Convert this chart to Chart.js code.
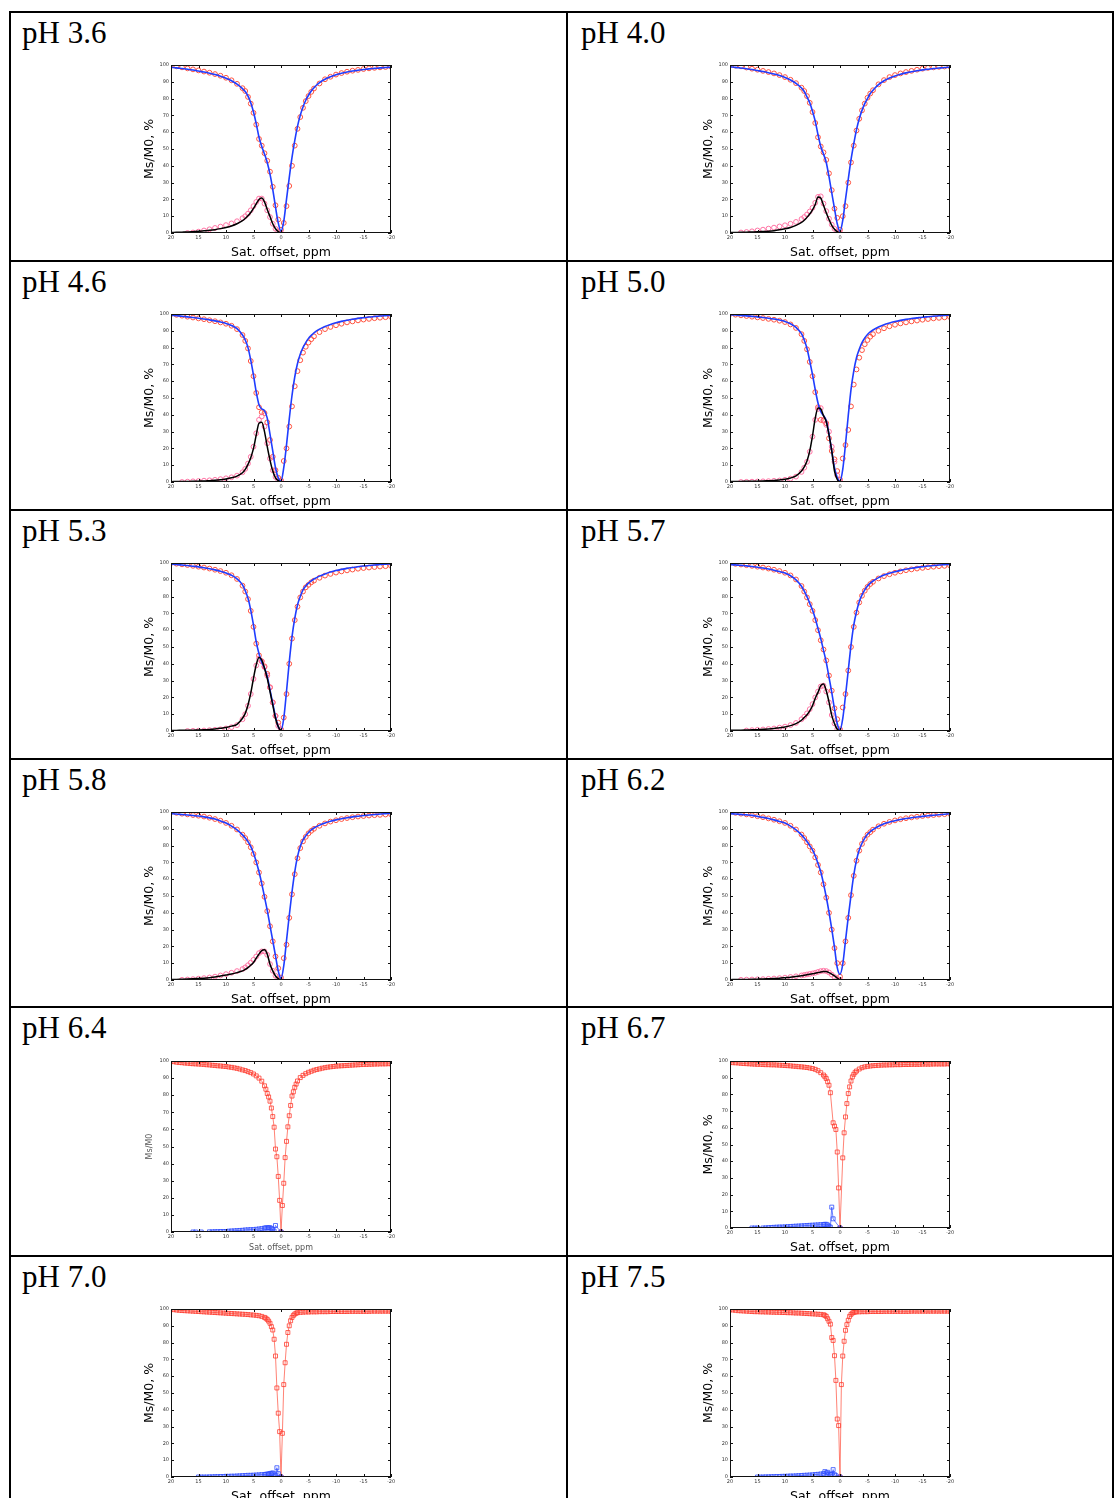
<!DOCTYPE html>
<html>
<head>
<meta charset="utf-8">
<script src="https://cdn.jsdelivr.net/npm/chart.js@4.4.0/dist/chart.umd.min.js"></script>
<style>
  html, body { margin: 0; padding: 0; background: #fff; }
  #page { position: relative; width: 1114px; height: 1498px; overflow: hidden; background: #fff; }
  .hline { position: absolute; left: 9px; right: 0; height: 2px; background: #000; }
  .vline { position: absolute; top: 11px; bottom: 0; width: 2px; background: #000; }
  .ph { position: absolute; font-family: 'Liberation Serif', 'Times New Roman', serif; font-size: 31px; line-height: 31px; color: #000; white-space: nowrap; }
  canvas { position: absolute; }
</style>
</head>
<body>
<div id="page"></div>
<script>
// saturation offsets, ppm (Z-spectra and fits, pH 3.6 - 6.2)
const offsets = [20, 19, 18, 17, 16, 15, 14, 13, 12, 11, 10, 9, 8, 7,
  6.5, 6, 5.5, 5, 4.5, 4, 3.5, 3, 2.5, 2, 1.5, 1, 0.5, 0, -0.5, -1, -1.5, -2, -2.5, -3, -3.5, -4, -4.5, -5, -5.5, -6,
  -7, -8, -9, -10, -11, -12, -13, -14, -15, -16, -17, -18, -19, -20];
// offsets of the asymmetry curves (positive side only)
const asymOffsets = [20, 19, 18, 17, 16, 15, 14, 13, 12, 11, 10, 9, 8, 7,
  6.5, 6, 5.5, 5, 4.5, 4, 3.5, 3, 2.5, 2, 1.5, 1, 0.5, 0];

// pH 3.6
const z36 = [100, 99.2, 98.6, 98.0, 97.4, 96.8, 96.1, 95.4, 94.6, 93.6, 92.4, 90.9, 88.8, 86.2,
  84.5, 81, 77, 71.5, 64.5, 56, 52, 47.5, 43, 36.5, 27.5, 16.5, 8, 2, 6, 16, 28, 40, 52, 62, 69, 74.5, 78.5, 81.5, 84, 86,
  89, 91.5, 93, 94.3, 95.2, 96, 96.6, 97.1, 97.6, 98, 98.3, 98.6, 98.8, 99];
const fit36 = [98.6, 98.3, 97.9, 97.5, 97.0, 96.4, 95.8, 95.1, 94.3, 93.3, 92.1, 90.6, 88.6, 85.9,
  84.2, 81.5, 77.5, 72, 65, 57, 51.5, 47, 42, 35, 26, 15.5, 6, 1, 7, 20, 33, 45, 55, 63.5, 70, 75, 79, 82, 84.5, 86.5,
  89.5, 91.5, 93, 94.2, 95.1, 95.8, 96.4, 96.9, 97.3, 97.7, 98, 98.3, 98.5, 98.7];
const asym36 = [null, null, null, 0, 0.3, 0.8, 1.5, 2.2, 3.0, 3.8, 4.7, 5.7, 7.0, 8.8,
  10.0, 11.5, 13.5, 16, 18.5, 20.5, 20.5, 17.5, 13.5, 9.5, 5.5, 2.5, 1, 0];
const asymFit36 = [0.3, 0.4, 0.5, 0.6, 0.8, 1.0, 1.3, 1.6, 2.0, 2.6, 3.3, 4.2, 5.5, 7.3,
  8.6, 10.2, 12.2, 14.6, 17.4, 20.0, 20.8, 18.5, 14.0, 9.8, 5.5, 2.5, 0.8, 0];

// pH 4.0
const z40 = [100, 99.6, 99.2, 98.5, 97.8, 97.2, 96.5, 95.8, 95, 94, 92.8, 91.2, 89.2, 86.5,
  84.5, 81.5, 77.5, 72, 65.5, 57, 51.5, 48, 43.5, 35.5, 25.5, 14.5, 9, 2, 10, 16, 30, 42, 52, 61, 68, 73, 77, 80.5, 83, 85,
  88.5, 91, 92.8, 94, 95, 95.8, 96.5, 97.2, 97.8, 98.3, 98.6, 98.9, 99.1, 99.2];
const fit40 = [98.9, 98.6, 98.2, 97.8, 97.3, 96.7, 96.1, 95.4, 94.6, 93.7, 92.6, 91.1, 89.1, 86.3,
  84.2, 81, 77.5, 72.5, 66.5, 58.5, 51.5, 47, 42, 33.5, 24, 14.5, 5.5, 1, 7.5, 20, 32, 43.5, 53, 61.5, 68, 73, 77, 80, 83, 85,
  88.3, 90.6, 92.2, 93.5, 94.5, 95.3, 96, 96.6, 97.1, 97.5, 97.9, 98.2, 98.5, 98.7];
const asym40 = [null, null, 0.3, 0.6, 1.0, 1.5, 2.0, 2.6, 3.2, 3.9, 4.6, 5.5, 6.6, 8.3,
  9.5, 11, 12.8, 15, 18, 21.5, 21.8, 17.5, 13, 8.5, 5, 2.5, 1, 0.2];
const asymFit40 = [0.3, 0.35, 0.4, 0.5, 0.6, 0.7, 0.9, 1.1, 1.4, 1.9, 2.5, 3.3, 4.5, 6.3,
  7.6, 9.3, 11.3, 13.8, 17, 21.5, 20.8, 16.5, 12, 8, 4.6, 2.3, 0.8, 0];

// pH 4.6
const z46 = [100, 99.5, 99, 98.4, 97.9, 97.4, 96.9, 96.3, 95.7, 95, 94.2, 93, 91, 87.5,
  84, 79.5, 72, 63, 53, 44.5, 41.5, 41, 35.5, 25, 15, 7, 2.5, 1, 12.5, 20, 33, 45, 57, 66, 72.5, 77, 80.5, 83, 85, 86.7,
  89.2, 91, 92.3, 93.3, 94.2, 95, 95.6, 96.2, 96.7, 97.1, 97.5, 97.8, 98.1, 98.3];
const fit46 = [99.3, 99, 98.7, 98.3, 97.9, 97.5, 97, 96.5, 95.9, 95.2, 94.4, 93.2, 91.3, 87.5,
  84.5, 80, 72.5, 63.5, 53.5, 46, 43.5, 42.5, 38, 28.5, 18.5, 8.5, 2.5, 0.5, 8.5, 22, 37.5, 51.5, 62.5, 70.5, 76, 80, 83, 85.5, 87.3, 88.8,
  91, 92.6, 93.8, 94.8, 95.6, 96.3, 96.9, 97.4, 97.8, 98.2, 98.5, 98.8, 99, 99.2];
const asym46 = [null, null, 0, 0.2, 0.4, 0.6, 0.8, 1.0, 1.3, 1.7, 2.2, 2.8, 3.8, 5.8,
  7.8, 11, 15, 21, 29, 37, 39, 33, 23, 14, 7, 3, 1, 0.2];
const asymFit46 = [0.2, 0.25, 0.3, 0.35, 0.4, 0.5, 0.6, 0.8, 1.0, 1.3, 1.8, 2.5, 3.5, 5.5,
  7.5, 10.5, 14.5, 20, 28, 35, 35.5, 30, 21, 13, 6.5, 2.5, 0.8, 0];

// pH 5.0
const z50 = [100, 99.6, 99.2, 98.8, 98.4, 98, 97.6, 97.1, 96.6, 96, 95.2, 93.8, 91.7, 88,
  84, 79, 71.5, 63, 53.5, 44.5, 37, 36.5, 35, 26, 18.5, 13.5, 6.5, 1.5, 14, 22, 31, 45, 58, 67, 74, 78.5, 82, 84.5, 86.5, 88,
  90, 91.5, 92.7, 93.6, 94.4, 95, 95.6, 96.1, 96.6, 97, 97.4, 97.7, 98, 98.2];
const fit50 = [99.6, 99.4, 99.2, 98.9, 98.6, 98.3, 97.9, 97.5, 97, 96.4, 95.6, 94.2, 92, 88.3,
  84.5, 79.5, 72, 64, 55, 47, 42, 39.5, 36.5, 28.5, 18.5, 8.5, 2.6, 0.5, 7.5, 22.5, 39.5, 55, 66, 74, 79, 83, 85.7, 87.8, 89.3, 90.5,
  92.3, 93.6, 94.6, 95.5, 96.2, 96.8, 97.3, 97.7, 98.1, 98.4, 98.7, 99, 99.2, 99.4];
const asym50 = [null, null, 0, 0.1, 0.2, 0.3, 0.4, 0.5, 0.7, 0.9, 1.3, 2, 3.2, 6,
  8.5, 12, 18, 27, 37, 43.5, 44, 37, 34, 30, 21, 12, 4, 0.5];
const asymFit50 = [0.3, 0.3, 0.35, 0.4, 0.45, 0.5, 0.6, 0.75, 0.9, 1.2, 1.6, 2.4, 3.6, 6.5,
  9, 12.5, 18.5, 27.5, 38, 44, 43.5, 39.5, 36, 28, 18.5, 6.5, 1.5, 0];

// pH 5.3
const z53 = [100, 99.6, 99.2, 98.8, 98.3, 97.8, 97.3, 96.7, 96, 95.2, 94.2, 92.7, 90.5, 86.5,
  83, 78.5, 71.5, 62, 52, 45, 41.5, 38.5, 34, 26, 17, 9, 5, 1, 8, 22, 40, 55, 66, 74, 79.5, 83, 85.5, 87, 88.5, 89.5,
  91.2, 92.5, 93.5, 94.3, 95, 95.6, 96.1, 96.6, 97, 97.3, 97.6, 97.9, 98.1, 98.3];
const fit53 = [99.3, 99.1, 98.8, 98.5, 98.1, 97.7, 97.2, 96.6, 95.9, 95.1, 94.1, 92.7, 90.6, 87,
  83.5, 79, 72, 63, 53, 46, 41, 37.4, 32.4, 24.5, 16.5, 8.5, 2.6, 0.5, 7.5, 23.5, 41, 56, 67, 75, 80, 84, 86.3, 88, 89.4, 90.5,
  92.2, 93.5, 94.6, 95.5, 96.2, 96.8, 97.3, 97.8, 98.2, 98.5, 98.8, 99.1, 99.3, 99.5];
const asym53 = [null, null, null, 0, 0.1, 0.2, 0.3, 0.5, 0.7, 1, 1.5, 2.3, 3.5, 7,
  10, 15, 22, 31, 39, 43, 41.5, 38, 33, 26, 17, 9, 3, 0.5];
const asymFit53 = [0.3, 0.35, 0.4, 0.45, 0.5, 0.6, 0.7, 0.9, 1.2, 1.6, 2.1, 2.9, 4, 7.6,
  10.5, 15.5, 22.5, 31.4, 39.4, 43.7, 42.3, 37.4, 31.4, 23.5, 15.5, 7.6, 2.6, 0];

// pH 5.7
const z57 = [100, 99.5, 99.1, 98.7, 98.3, 97.8, 97.3, 96.7, 96, 95.2, 94.2, 92.6, 90.2, 86.3,
  83, 79.5, 75.5, 71.5, 66, 60, 54, 48.5, 42, 33, 24, 13.5, 7, 1, 14, 22, 36, 50, 62, 70.5, 76.5, 80.5, 83.5, 85.8, 87.5, 88.8,
  90.8, 92.2, 93.3, 94.2, 95, 95.7, 96.2, 96.7, 97.1, 97.5, 97.8, 98.1, 98.3, 98.5];
const fit57 = [99.1, 98.9, 98.6, 98.3, 97.9, 97.5, 97, 96.4, 95.7, 94.9, 94, 92.4, 90, 86.2,
  83.3, 80, 76, 72, 67, 61, 55, 48, 41, 32, 23, 13, 4.4, 0.5, 7.4, 21, 36, 51, 63, 71, 77, 81, 84, 86.3, 88, 89.3,
  91.3, 92.8, 93.9, 94.8, 95.6, 96.3, 96.9, 97.4, 97.8, 98.2, 98.5, 98.8, 99, 99.2];
const asym57 = [null, null, null, 0.3, 0.5, 0.7, 0.9, 1.2, 1.5, 2, 2.6, 3.5, 4.8, 7,
  8.5, 10.5, 13, 16, 20, 23.5, 26.5, 27, 23.5, 17, 9.5, 4.5, 1.2, 0.2];
const asymFit57 = [0.4, 0.45, 0.5, 0.6, 0.7, 0.8, 1.0, 1.2, 1.5, 2.0, 2.4, 3.2, 4.4, 6.4,
  8, 9.7, 12, 15, 19.5, 23, 27, 28, 24, 17.3, 9.3, 4.4, 1, 0];

// pH 5.8
const z58 = [100, 99.5, 99, 98.6, 98.2, 97.8, 97.3, 96.6, 95.8, 94.8, 93.5, 91.8, 89.6, 86.5,
  84.5, 82, 79, 75, 70, 64, 57.5, 49.5, 41, 32, 23, 14, 7, 1.5, 13, 21, 37, 51, 63, 72.5, 78.5, 82.5, 85.2, 87.3, 88.8, 90,
  91.8, 93.2, 94.3, 95.1, 95.8, 96.4, 96.9, 97.3, 97.6, 97.9, 98.1, 98.3, 98.5, 98.6];
const fit58 = [99, 98.8, 98.5, 98.2, 97.9, 97.6, 97.1, 96.5, 95.8, 94.7, 93.4, 91.6, 89.4, 86.4,
  84.5, 82.4, 79.5, 75.4, 70.4, 64.4, 57.4, 49.4, 41.4, 32.4, 23.4, 14.4, 5.4, 0.8, 8.4, 23.4, 38.4, 52.4, 64.4, 73.4, 79.4, 83.4, 85.8, 87.8, 89.3, 90.5,
  92.2, 93.5, 94.5, 95.3, 96, 96.6, 97.1, 97.5, 97.9, 98.2, 98.5, 98.8, 99, 99.2];
const asym58 = [null, null, 0.1, 0.3, 0.5, 0.8, 1.1, 1.5, 2, 2.7, 3.5, 4.3, 5.3, 6.5,
  7.5, 8.8, 10.3, 12, 14, 16, 17, 17, 15, 9.5, 5.5, 2.5, 1, 0.2];
const asymFit58 = [0.3, 0.35, 0.45, 0.55, 0.7, 0.9, 1.1, 1.4, 1.8, 2.4, 3, 3.6, 4.4, 5.4,
  6.3, 7.4, 8.8, 10.4, 13, 15.4, 17.5, 18, 15.4, 9.4, 5.4, 2.4, 0.8, 0];

// pH 6.2
const z62 = [100, 99.5, 99, 98.6, 98.1, 97.5, 96.9, 96.2, 95.4, 94.5, 93.5, 91.8, 89.6, 86.6,
  84.5, 82, 79.5, 77, 73, 68.5, 64, 57, 49, 40, 30, 19, 10, 2, 10, 23, 37, 50.5, 62, 71, 77, 81, 84, 86.5, 88, 89.5,
  91.5, 93, 94.1, 95, 95.7, 96.3, 96.8, 97.2, 97.6, 97.9, 98.2, 98.5, 98.7, 98.9];
const fit62 = [99, 98.8, 98.6, 98.3, 98, 97.4, 96.8, 96.1, 95.3, 94.4, 93.4, 91.6, 89.4, 86.4,
  84.5, 82.4, 80, 77.4, 73.8, 69.4, 64.4, 57.4, 49.4, 40.4, 30.4, 19.4, 7.4, 3.4, 9.4, 23.4, 37.4, 50.4, 62.4, 71.4, 77.4, 81.4, 84.4, 86.8, 88.3, 89.5,
  91.5, 93, 94, 94.8, 95.5, 96.1, 96.6, 97, 97.4, 97.8, 98.1, 98.4, 98.7, 99];
const asym62 = [null, null, 0.1, 0.2, 0.3, 0.4, 0.5, 0.7, 0.9, 1.1, 1.4, 1.8, 2.2, 2.7,
  3, 3.3, 3.6, 3.9, 4.3, 4.8, 5.3, 5.5, 5.3, 4.5, 3.2, 1.8, 0.8, 0.2];
const asymFit62 = [0.2, 0.25, 0.3, 0.35, 0.4, 0.5, 0.6, 0.75, 0.9, 1.1, 1.4, 1.7, 2.1, 2.5,
  2.8, 3.1, 3.4, 3.7, 4.0, 4.4, 4.8, 5.0, 5.0, 4.4, 3.5, 2.4, 1.2, 0];

// raw spectra, pH 6.4 - 7.5
const lowOffsets = [20, 19.5, 19, 18.5, 18, 17.5, 17, 16.5, 16, 15.5, 15, 14.5, 14, 13.5, 13, 12.5, 12, 11.5,
  11, 10.5, 10, 9.5, 9, 8.5, 8, 7.5, 7, 6.5, 6, 5.5, 5, 4.5, 4, 3.5, 3,
  2.75, 2.5, 2.25, 2, 1.75, 1.5, 1.25, 1, 0.75, 0.5, 0.25, 0, -0.25, -0.5, -0.75, -1, -1.25, -1.5, -1.75, -2, -2.25, -2.5, -2.75,
  -3, -3.5, -4, -4.5, -5, -5.5, -6, -6.5, -7, -7.5, -8, -8.5, -9, -9.5, -10, -10.5, -11, -11.5,
  -12, -12.5, -13, -13.5, -14, -14.5, -15, -15.5, -16, -16.5, -17, -17.5, -18, -18.5, -19, -19.5, -20];
const lowAsymOffsets = [16, 15.5, 15, 14.5, 14, 13.5, 13, 12.5, 12, 11.5, 11, 10.5, 10, 9.5,
  9, 8.5, 8, 7.5, 7, 6.5, 6, 5.5, 5, 4.5, 4, 3.5, 3,
  2.75, 2.5, 2.25, 2, 1.75, 1.5, 1.25, 1, 0.75, 0.5, 0.25, 0];

const z64 = [99.8, 99.6, 99.3, 99.1, 99, 98.8, 98.7, 98.5, 98.4, 98.3, 98.2, 98.1, 98, 97.8, 97.7, 97.5, 97.4, 97.2,
  97.1, 96.9, 96.8, 96.5, 96.3, 96, 95.7, 95.3, 94.8, 94.4, 93.8, 93.2, 92.4, 91.3, 90, 88.2, 85.5,
  83.5, 81, 79, 76.5, 72.5, 67.5, 61.3, 48.5, 44, 32.5, 18.5, 0, 15.5, 28.5, 43.5, 53, 61.5, 68, 74, 79.5, 82, 84.6, 86.5,
  88.3, 90.3, 91.6, 92.6, 93.4, 94, 94.6, 95, 95.4, 95.8, 96.1, 96.4, 96.6, 96.8, 97, 97.1, 97.2, 97.3,
  97.4, 97.5, 97.6, 97.7, 97.8, 97.9, 98, 98, 98.1, 98.1, 98.2, 98.2, 98.3, 98.3, 98.3, 98.4, 98.4];
const mtr64 = [0, 0, null, 0, null, null, 0.1, 0.1, 0.2, 0.2, 0.3, 0.3, 0.3, 0.5,
  0.6, 0.7, 0.8, 0.9, 1.0, 1.2, 1.3, 1.4, 1.4, 1.6, 1.8, 2.0, 2.3,
  2.4, 2.4, 2.5, 2.5, 2.1, 1.4, 0.5, 3.8, null, null, null, 0];

const z67 = [99.2, 99, 98.9, 98.8, 98.6, 98.5, 98.4, 98.3, 98.2, 98.1, 98, 98, 97.9, 97.8, 97.8, 97.7, 97.7, 97.6,
  97.5, 97.4, 97.3, 97.2, 97.1, 96.9, 96.8, 96.6, 96.5, 96.3, 96.1, 95.8, 95.5, 95, 94.2, 93, 91.6,
  90.6, 89.5, 87.6, 85.5, 81, null, 63, 61, 59, 45.5, 24, 0, null, 42, 57, 66.5, 74.5, 80.5, 84.5, 88, 90.5, 92, 93.2,
  94, 95.2, 96, 96.5, 96.8, 97, 97.2, 97.3, 97.4, 97.5, 97.6, 97.6, 97.7, 97.7, 97.8, 97.8, 97.8, 97.9,
  97.9, 97.9, 98, 98, 98, 98, 98.1, 98.1, 98.1, 98.1, 98.2, 98.2, 98.2, 98.2, 98.2, 98.3, 98.3];
const mtr67 = [0, 0, 0, null, 0, 0.1, 0.2, 0.3, 0.4, 0.5, 0.6, 0.6, 0.7, 0.8,
  0.9, 1.0, 1.1, 1.2, 1.3, 1.4, 1.5, 1.6, 1.7, 1.8, 1.9, 2.0, 2.1,
  2.2, 2.2, 1.8, 1.0, 0.5, 12.5, 5.5, null, null, null, null, 0];

const z70 = [99.8, 99.6, 99.4, 99.2, 99.1, 99, 98.9, 98.8, 98.7, 98.6, 98.5, 98.4, 98.3, 98.2, 98.1, 98, 97.9, 97.8,
  97.7, 97.6, 97.5, 97.4, 97.3, 97.2, 97.1, 97, 96.9, 96.8, 96.7, 96.5, 96.4, 96.2, 96, 95.6, 95,
  94.5, 93.8, 92.8, 91.5, 89.5, 87.5, 82, 72, 53, 38, 27, 0, 26, 55, 68, 79, 86, 90, 93, 95, 96.2, 97, 97.5,
  97.8, 98, 98.1, 98.2, 98.2, 98.3, 98.3, 98.3, 98.4, 98.4, 98.4, 98.4, 98.5, 98.5, 98.5, 98.5, 98.5, 98.5,
  98.5, 98.6, 98.6, 98.6, 98.6, 98.6, 98.6, 98.6, 98.6, 98.7, 98.7, 98.7, 98.7, 98.7, 98.7, 98.7, 98.7];
const mtr70 = [null, null, 0, 0, 0, 0, 0.1, 0.1, 0.2, 0.2, 0.3, 0.3, 0.4, 0.4,
  0.5, 0.5, 0.6, 0.7, 0.8, 0.9, 1.0, 1.0, 1.1, 1.2, 1.3, 1.4, 1.5,
  1.6, 1.7, 1.8, 2.0, 2.2, 2.4, 1.8, 1.0, 5.5, 2.0, null, 0];

const z75 = [99.6, 99.4, 99.2, 99, 98.9, 98.8, 98.7, 98.6, 98.5, 98.4, 98.4, 98.3, 98.3, 98.2, 98.2, 98.1, 98.1, 98,
  98, 97.9, 97.9, 97.8, 97.8, 97.7, 97.6, 97.6, 97.5, 97.4, 97.3, 97.2, 97.1, 97, 96.9, 96.8, 96.6,
  96.2, 95.6, 94.2, 92.7, 91, 83, 81.3, 72.2, 57.5, 34.5, 30.6, 0, 55, 72, 80.8, 87.3, 90.7, 93.3, 95.6, 96.8, 97.6, 98, 98.2,
  98.3, 98.3, 98.4, 98.4, 98.4, 98.5, 98.5, 98.5, 98.5, 98.5, 98.6, 98.6, 98.6, 98.6, 98.6, 98.6, 98.6, 98.6,
  98.6, 98.6, 98.7, 98.7, 98.7, 98.7, 98.7, 98.7, 98.7, 98.7, 98.7, 98.7, 98.7, 98.7, 98.7, 98.7, 98.7];
const mtr75 = [null, null, 0, 0, 0, 0.1, 0.1, 0.2, 0.2, 0.3, 0.3, 0.4, 0.4, 0.5,
  0.6, 0.6, 0.7, 0.8, 0.9, 1.0, 1.1, 1.2, 1.3, 1.5, 1.6, 1.8, 2.0,
  3.2, 2.4, 2.8, 1.8, 1.6, 1.4, 4.4, 1.4, 0.8, null, null, 0];

const xTicks = [20, 15, 10, 5, 0, -5, -10, -15, -20];

const panels = [
  {label: `pH 3.6`, z: z36, fit: fit36, asym: asym36, asymFit: asymFit36},
  {label: `pH 4.0`, z: z40, fit: fit40, asym: asym40, asymFit: asymFit40},
  {label: `pH 4.6`, z: z46, fit: fit46, asym: asym46, asymFit: asymFit46},
  {label: `pH 5.0`, z: z50, fit: fit50, asym: asym50, asymFit: asymFit50},
  {label: `pH 5.3`, z: z53, fit: fit53, asym: asym53, asymFit: asymFit53},
  {label: `pH 5.7`, z: z57, fit: fit57, asym: asym57, asymFit: asymFit57},
  {label: `pH 5.8`, z: z58, fit: fit58, asym: asym58, asymFit: asymFit58},
  {label: `pH 6.2`, z: z62, fit: fit62, asym: asym62, asymFit: asymFit62},
  {label: `pH 6.4`, raw: z64, mtr: mtr64, faint: true},
  {label: `pH 6.7`, raw: z67, mtr: mtr67},
  {label: `pH 7.0`, raw: z70, mtr: mtr70},
  {label: `pH 7.5`, raw: z75, mtr: mtr75},
];

const rowTops = [12, 261, 510, 759, 1007, 1256];
const page = document.getElementById(`page`);

Chart.defaults.font.family = `'DejaVu Sans', Verdana, sans-serif`;

// table rules
rowTops.forEach((top) => {
  const line = document.createElement(`div`);
  line.className = `hline`;
  line.style.top = `${top - 1}px`;
  page.appendChild(line);
});
[9, 566, 1112].forEach((left) => {
  const line = document.createElement(`div`);
  line.className = `vline`;
  line.style.left = `${left}px`;
  page.appendChild(line);
});

// box round the plot area, with inward tick marks
const boxPlugin = {
  id: `box`,
  afterDraw(chart) {
    const {ctx, chartArea: a, scales: {x, y}} = chart;
    ctx.save();
    ctx.strokeStyle = `#111`;
    ctx.lineWidth = 1;
    ctx.strokeRect(Math.round(a.left) + 0.5, Math.round(a.top) + 0.5,
      Math.round(a.right - a.left) - 1, Math.round(a.bottom - a.top) - 1);
    ctx.beginPath();
    x.ticks.forEach((t) => {
      const px = Math.round(x.getPixelForValue(t.value)) + 0.5;
      ctx.moveTo(px, a.bottom);
      ctx.lineTo(px, a.bottom - 3);
      ctx.moveTo(px, a.top);
      ctx.lineTo(px, a.top + 3);
    });
    y.ticks.forEach((t) => {
      const py = Math.round(y.getPixelForValue(t.value)) + 0.5;
      ctx.moveTo(a.left, py);
      ctx.lineTo(a.left + 3, py);
      ctx.moveTo(a.right, py);
      ctx.lineTo(a.right - 3, py);
    });
    ctx.stroke();
    ctx.restore();
  },
};

const toPoints = (xs, ys) => xs.map((x, i) => ({x, y: ys[i]}));

const cestDatasets = (p) => [
  {
    data: toPoints(offsets, p.z),
    showLine: false,
    pointStyle: `circle`,
    pointRadius: 2.4,
    pointBorderWidth: 1,
    pointBorderColor: `rgba(255,75,55,0.95)`,
    pointBackgroundColor: `rgba(0,0,0,0)`,
    order: 4,
  },
  {
    data: toPoints(asymOffsets, p.asym),
    showLine: false,
    pointStyle: `circle`,
    pointRadius: 2.4,
    pointBorderWidth: 1,
    pointBorderColor: `rgba(255,110,160,0.95)`,
    pointBackgroundColor: `rgba(0,0,0,0)`,
    order: 3,
  },
  {
    data: toPoints(offsets, p.fit),
    showLine: true,
    pointRadius: 0,
    borderColor: `#1f3dff`,
    borderWidth: 1.6,
    cubicInterpolationMode: `monotone`,
    order: 2,
  },
  {
    data: toPoints(asymOffsets, p.asymFit),
    showLine: true,
    pointRadius: 0,
    borderColor: `#000`,
    borderWidth: 1.5,
    cubicInterpolationMode: `monotone`,
    order: 1,
  },
];

const rawDatasets = (p) => [
  {
    data: toPoints(lowOffsets, p.raw),
    showLine: true,
    spanGaps: true,
    borderColor: `rgba(255,70,50,0.85)`,
    borderWidth: 0.8,
    pointStyle: `rect`,
    pointRadius: 2.8,
    pointBorderWidth: 0.8,
    pointBorderColor: `#ff3b2f`,
    pointBackgroundColor: `rgba(0,0,0,0)`,
    order: 2,
  },
  {
    data: toPoints(lowAsymOffsets, p.mtr),
    showLine: true,
    spanGaps: true,
    borderColor: `rgba(40,70,255,0.85)`,
    borderWidth: 0.8,
    pointStyle: `rect`,
    pointRadius: 2.8,
    pointBorderWidth: 0.8,
    pointBorderColor: `#2f4cff`,
    pointBackgroundColor: `rgba(0,0,0,0)`,
    order: 1,
  },
];

const renderPanel = (p, i) => {
  const col = i % 2;
  const row = Math.floor(i / 2);
  const plotLeft = col ? 730 : 171;
  let plotTop = rowTops[row] + 53;
  let plotH = 168;
  if (i === 8) {
    plotTop += 1;
    plotH = 171;
  }
  if (i === 9) {
    plotTop += 1;
    plotH = 167;
  }

  const label = document.createElement(`div`);
  label.className = `ph`;
  label.textContent = p.label;
  label.style.left = `${col ? 581 : 22}px`;
  label.style.top = `${rowTops[row] + 5}px`;
  page.appendChild(label);

  const canvas = document.createElement(`canvas`);
  const w = 300;
  const h = plotH + 37;
  canvas.width = w;
  canvas.height = h;
  canvas.style.width = `${w}px`;
  canvas.style.height = `${h}px`;
  canvas.style.left = `${plotLeft - 40}px`;
  canvas.style.top = `${plotTop - 8}px`;
  page.appendChild(canvas);

  const titleSize = p.faint ? 8 : 12.5;
  const titleColor = p.faint ? `#555` : `#000`;
  const tickFont = {size: 5};

  new Chart(canvas, {
    type: `scatter`,
    data: {datasets: p.raw ? rawDatasets(p) : cestDatasets(p)},
    options: {
      responsive: false,
      animation: false,
      events: [],
      layout: {padding: {left: 0, top: 8, right: 40, bottom: 0}},
      plugins: {legend: {display: false}, tooltip: {enabled: false}},
      scales: {
        x: {
          type: `linear`,
          min: -20,
          max: 20,
          reverse: true,
          grid: {display: false, drawTicks: false},
          border: {display: false},
          afterBuildTicks: (scale) => {
            scale.ticks = xTicks.map((v) => ({value: v}));
          },
          ticks: {font: tickFont, color: `#333`, padding: 2, maxRotation: 0, autoSkip: false},
          title: {
            display: true,
            text: `Sat. offset, ppm`,
            color: titleColor,
            font: {size: titleSize},
            padding: {top: 0, bottom: p.faint ? 8.5 : 1.5},
          },
          afterFit: (scale) => {
            scale.height = 29;
          },
        },
        y: {
          min: 0,
          max: 100,
          grid: {display: false, drawTicks: false},
          border: {display: false},
          ticks: {stepSize: 10, font: tickFont, color: `#333`, padding: 2},
          title: {
            display: true,
            text: p.faint ? `Ms/M0` : `Ms/M0, %`,
            color: titleColor,
            font: {size: titleSize},
            padding: {top: p.faint ? 14.2 : 11.5, bottom: 0},
          },
          afterFit: (scale) => {
            scale.width = 40;
          },
        },
      },
    },
    plugins: [boxPlugin],
  });
};

panels.forEach(renderPanel);
</script>
</body>
</html>
